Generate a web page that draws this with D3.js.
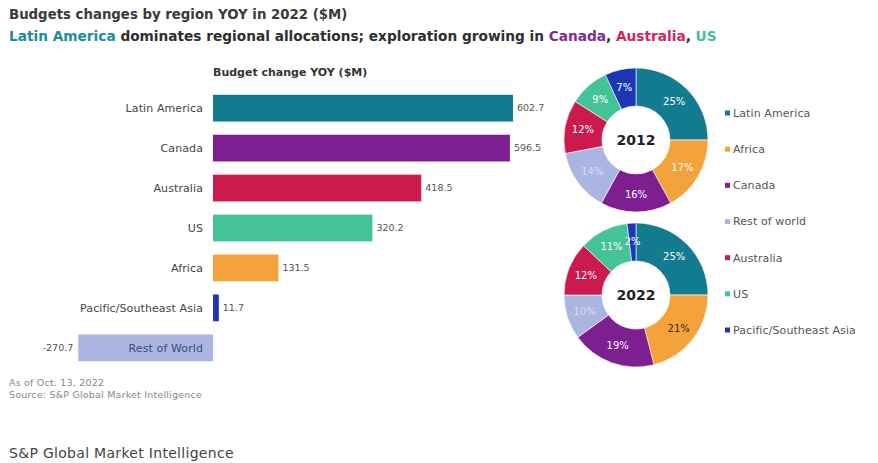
<!DOCTYPE html>
<html>
<head>
<meta charset="utf-8">
<script src="https://cdn.jsdelivr.net/npm/d3@7"></script>
<style>
  html, body { margin: 0; padding: 0; background: #fff; }
  svg { display: block; font-family: "DejaVu Sans", Verdana, sans-serif; }
</style>
</head>
<body>
<svg id="chart" width="878" height="463"></svg>
<script>
// Budget change YOY, 2022 ($M)
const barRegions = ["Latin America", "Canada", "Australia", "US", "Africa", "Pacific/Southeast Asia", "Rest of World"];
const barValues  = [602.7, 596.5, 418.5, 320.2, 131.5, 11.7, -270.7];
const barLabels  = ["602.7", "596.5", "418.5", "320.2", "131.5", "11.7", "-270.7"];

// Share of regional budgets (%)
const pieRegions = ["Latin America", "Africa", "Canada", "Rest of world", "Australia", "US", "Pacific/Southeast Asia"];
const share2012  = [25, 17, 16, 14, 12, 9, 7];
const share2022  = [25, 21, 19, 10, 12, 11, 2];
const pieYears   = ["2012", "2022"];

const regionColor = d3.scaleOrdinal()
  .domain(["Latin America", "Africa", "Canada", "Rest of world", "Australia", "US", "Pacific/Southeast Asia"])
  .range(["#137b8f", "#f4a23c", "#7d1f90", "#aab5e2", "#cc1a4f", "#44c299", "#1c36b5"]);
const barColor = r => regionColor(r === "Rest of World" ? "Rest of world" : r);

const svg = d3.select("#chart");

// Headline
svg.append("text").attr("x", 9).attr("y", 19)
  .attr("font-size", 13.3).attr("font-weight", 700).attr("fill", "#3a3a3a")
  .text("Budgets changes by region YOY in 2022 ($M)");

const sub = svg.append("text").attr("x", 9).attr("y", 41)
  .attr("font-size", 13.7).attr("font-weight", 700).attr("fill", "#2e2e2e");
[["Latin America", "#1a8c9c"], [" dominates regional allocations; exploration growing in ", null],
 ["Canada", "#7e2e93"], [", ", null], ["Australia", "#d0255c"], [", ", null], ["US", "#40bf9c"]]
  .forEach(([t, c]) => { const s = sub.append("tspan").text(t); if (c) s.attr("fill", c); });

// Bar chart
const x = d3.scaleLinear().domain([0, 602.7]).range([213, 513]);
const y = d3.scaleBand().domain(barRegions).range([88, 368]).paddingInner(0.33).paddingOuter(0.17);

svg.append("text").attr("x", 213).attr("y", 76)
  .attr("font-size", 11).attr("font-weight", 700).attr("fill", "#333")
  .text("Budget change YOY ($M)");

const bars = svg.append("g");
bars.selectAll("rect").data(barRegions).join("rect")
  .attr("x", (d, i) => Math.min(x(0), x(barValues[i])))
  .attr("y", d => y(d))
  .attr("width", (d, i) => Math.abs(x(barValues[i]) - x(0)))
  .attr("height", y.bandwidth())
  .attr("fill", d => barColor(d));

// Category labels (the negative bar carries its label inside)
bars.selectAll("text.cat").data(barRegions).join("text").attr("class", "cat")
  .attr("x", 203).attr("y", d => y(d) + y.bandwidth() / 2).attr("dy", "0.35em")
  .attr("text-anchor", "end").attr("font-size", 11).attr("letter-spacing", 0.1)
  .attr("fill", (d, i) => barValues[i] < 0 ? "#3c4a78" : "#444")
  .text(d => d);

bars.selectAll("text.val").data(barRegions).join("text").attr("class", "val")
  .attr("x", (d, i) => barValues[i] < 0 ? x(barValues[i]) - 5 : x(barValues[i]) + 4)
  .attr("y", d => y(d) + y.bandwidth() / 2).attr("dy", "0.35em")
  .attr("text-anchor", (d, i) => barValues[i] < 0 ? "end" : "start")
  .attr("font-size", 9.5).attr("fill", "#555")
  .text((d, i) => barLabels[i]);

// Donuts
const pie = d3.pie().sort(null).value(d => d.v);
const arc = d3.arc().innerRadius(34).outerRadius(72);
const labelArc = d3.arc().innerRadius(54).outerRadius(54);
const darkLabel = { "2022|Africa": true };

[[share2012, 140], [share2022, 295]].forEach(([vals, cy], k) => {
  const g = svg.append("g").attr("transform", `translate(636,${cy})`);
  const data = pie(pieRegions.map((r, i) => ({ r, v: vals[i] })));
  g.selectAll("path").data(data).join("path")
    .attr("d", arc).attr("fill", d => regionColor(d.data.r))
    .attr("stroke", "#fff").attr("stroke-width", 0.6);
  g.selectAll("text.pct").data(data).join("text").attr("class", "pct")
    .attr("transform", d => `translate(${labelArc.centroid(d)})`)
    .attr("text-anchor", "middle").attr("dy", "0.35em")
    .attr("font-size", 10)
    .attr("fill", d => darkLabel[pieYears[k] + "|" + d.data.r] ? "#3a2a10" : "#fff")
    .attr("fill-opacity", d => d.data.r === "Rest of world" ? 0.55 : 1)
    .text(d => d.data.v + "%");
  g.append("text").attr("text-anchor", "middle").attr("dy", "0.36em")
    .attr("font-size", 14).attr("font-weight", 700).attr("fill", "#222")
    .text(pieYears[k]);
});

// Legend
const legendY = d3.scalePoint().domain(pieRegions).range([113, 330]);
const legend = svg.append("g");
legend.selectAll("rect").data(pieRegions).join("rect")
  .attr("x", 725).attr("y", d => legendY(d) - 2.5).attr("width", 5).attr("height", 5)
  .attr("fill", d => regionColor(d));
legend.selectAll("text").data(pieRegions).join("text")
  .attr("x", 733).attr("y", d => legendY(d)).attr("dy", "0.35em")
  .attr("font-size", 11).attr("letter-spacing", 0.1).attr("fill", "#555").text(d => d);

// Notes and brand
svg.append("text").attr("x", 9).attr("y", 386).attr("font-size", 9.5).attr("letter-spacing", 0.2).attr("fill", "#888")
  .text("As of Oct. 13, 2022");
svg.append("text").attr("x", 9).attr("y", 398).attr("font-size", 9.5).attr("letter-spacing", 0.2).attr("fill", "#888")
  .text("Source: S&P Global Market Intelligence");
svg.append("text").attr("x", 9).attr("y", 458).attr("font-size", 14).attr("letter-spacing", 0.3).attr("fill", "#444")
  .text("S&P Global Market Intelligence");
</script>
</body>
</html>
